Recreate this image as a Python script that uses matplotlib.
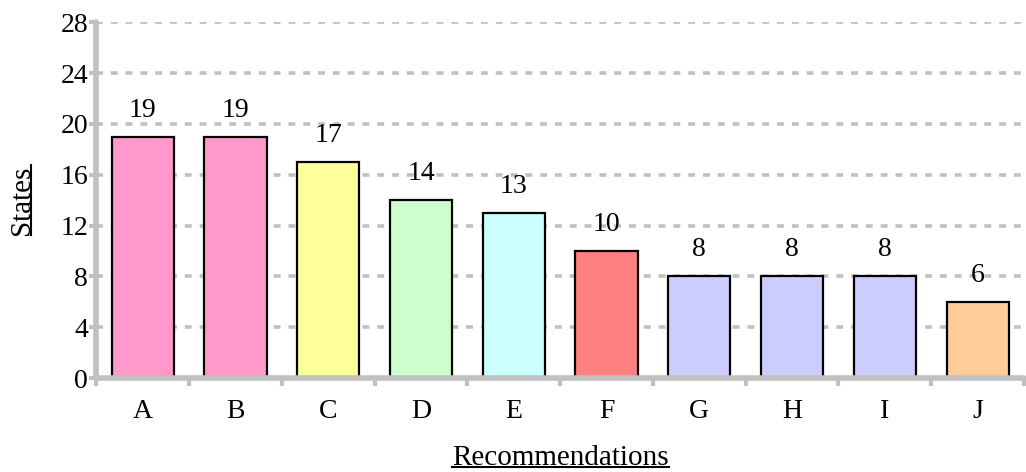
import matplotlib.pyplot as plt
from matplotlib.lines import Line2D
import numpy as np

# data
categories = ['A', 'B', 'C', 'D', 'E', 'F', 'G', 'H', 'I', 'J']
states = [19, 19, 17, 14, 13, 10, 8, 8, 8, 6]
colors = ['#ff99cc', '#ff99cc', '#ffff99', '#ccffcc', '#ccffff',
          '#ff8080', '#ccccff', '#ccccff', '#ccccff', '#ffcc99']
y_ticks = [0, 4, 8, 12, 16, 20, 24, 28]

plt.rcParams['font.family'] = 'Liberation Serif'
axis_grey = '#c0c0c0'

fig = plt.figure(figsize=(10.26, 4.72), dpi=100)
ax = fig.add_axes([0.094, 0.199, 0.904, 0.754])

x = np.arange(len(categories))
ax.bar(x, states, width=0.67, color=colors, edgecolor='black', linewidth=1.6, zorder=3)

for xi, v in zip(x, states):
    ax.text(xi, v + 1.1, str(v), ha='center', va='bottom', fontsize=20)

ax.set_xlim(-0.5, 9.5)
ax.set_ylim(0, 28)

# grid
for yv in y_ticks[1:]:
    ax.axhline(yv, color=axis_grey, linewidth=2.6, linestyle=(0, (1.9, 2.2)), zorder=1)

# spines
for s in ['top', 'right']:
    ax.spines[s].set_visible(False)
for s in ['left', 'bottom']:
    ax.spines[s].set_color(axis_grey)
    ax.spines[s].set_linewidth(4)
    ax.spines[s].set_capstyle('round')
    ax.spines[s].set_zorder(4)

ax.set_yticks(y_ticks)
ax.tick_params(axis='y', length=5, width=3, color=axis_grey, labelsize=20, pad=1)

ax.set_xticks(np.arange(-0.5, 9.6, 1.0))
ax.set_xticklabels([])
ax.tick_params(axis='x', which='major', length=6, width=3, color=axis_grey)
ax.set_xticks(x, minor=True)
ax.set_xticklabels(categories, minor=True)
ax.tick_params(axis='x', which='minor', length=0, labelsize=20, pad=15)

for t in ax.xaxis.get_ticklines() + ax.yaxis.get_ticklines():
    t.set_solid_capstyle('round')

ylab = ax.set_ylabel('States', fontsize=21, labelpad=18)
xlab = ax.set_xlabel('Recommendations', fontsize=21, labelpad=15)

# underline the axis titles
fig.canvas.draw()
r = fig.canvas.get_renderer()
inv = fig.transFigure.inverted()
bb = xlab.get_window_extent(r)
(x0, y0), (x1, y1) = inv.transform([(bb.x0, bb.y0 + 4), (bb.x1, bb.y0 + 4)])
fig.add_artist(Line2D([x0, x1], [y0, y1], color='black', linewidth=1.5, transform=fig.transFigure))
bb = ylab.get_window_extent(r)
(x0, y0), (x1, y1) = inv.transform([(bb.x1 - 4, bb.y0), (bb.x1 - 4, bb.y1)])
fig.add_artist(Line2D([x0, x1], [y0, y1], color='black', linewidth=1.5, transform=fig.transFigure))

fig.savefig('out.png', dpi=100)
